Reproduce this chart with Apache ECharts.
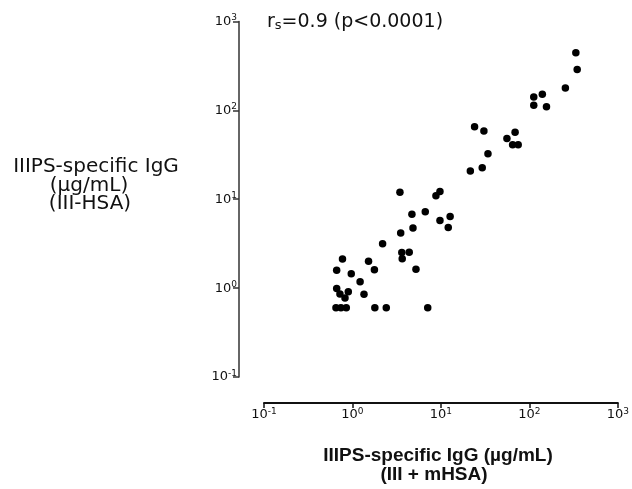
<!DOCTYPE html>
<html>
<head>
<meta charset="utf-8">
<script src="https://cdn.jsdelivr.net/npm/echarts@6/dist/echarts.min.js"></script>
<style>
html,body{margin:0;padding:0;background:#fff;}
#chart{width:632px;height:489px;}
</style>
</head>
<body>
<div id="chart"></div>
<script>
// x: IIIPS-specific IgG (III + mHSA), y: IIIPS-specific IgG (III-HSA), µg/mL
var xValues = [335, 347, 255, 112, 140, 112, 156, 24.0, 30.6, 68.9, 55.7, 64.6, 74.7, 34.0, 21.5, 29.3,
  3.44, 8.78, 9.75, 4.70, 6.65, 9.75, 12.7, 4.83, 12.1, 3.51, 2.19, 3.61, 4.38, 3.65,
  0.771, 1.52, 1.77, 5.22, 0.663, 0.969, 1.22, 0.663, 0.722, 0.823, 0.897, 1.35,
  0.651, 0.741, 0.851, 1.79, 2.41, 7.09];
var yValues = [445, 289, 178, 141, 152, 114, 110, 65.5, 58.6, 56.8, 48.3, 41.1, 41.1, 32.5, 20.8, 22.6,
  12.0, 10.96, 12.2, 6.79, 7.24, 5.78, 6.40, 4.75, 4.82, 4.17, 3.16, 2.52, 2.54, 2.14,
  2.13, 2.00, 1.61, 1.63, 1.59, 1.45, 1.18, 0.99, 0.86, 0.774, 0.91, 0.854,
  0.6, 0.6, 0.6, 0.6, 0.6, 0.6];
var tickValues = [0.1, 1, 10, 100, 1000];
var statText = ['r', 's', '=0.9 (p<0.0001)'];
var yTitleLines = ['IIIPS-specific IgG', '(µg/mL)', '(III-HSA)'];
var xTitleLines = ['IIIPS-specific IgG (µg/mL)', '(III + mHSA)'];

var points = xValues.map(function (x, i) { return [x, yValues[i]]; });

function powLabel(v) {
  var e = Math.round(Math.log10(v));
  return '{n|10}{s|' + e + '}';
}
var labelRich = {
  n: { fontFamily: 'DejaVu Sans', fontSize: 13, color: '#111', lineHeight: 14 },
  s: { fontFamily: 'DejaVu Sans', fontSize: 9, color: '#111', lineHeight: 9, padding: [0, 0, 7, 0] }
};

var chart = echarts.init(document.getElementById('chart'), null, { renderer: 'canvas' });
var option = {
  backgroundColor: '#fff',
  animation: false,
  grid: { left: 264, right: 14, top: 21.5, bottom: 112 },
  xAxis: {
    type: 'log', logBase: 10, min: 0.1, max: 1000,
    offset: 26,
    axisLine: { show: true, lineStyle: { color: '#111', width: 2 } },
    axisTick: { show: true, length: 5, lineStyle: { color: '#111', width: 1.5 } },
    minorTick: { show: false },
    splitLine: { show: false },
    axisLabel: { margin: 5, formatter: powLabel, rich: labelRich }
  },
  yAxis: {
    type: 'log', logBase: 10, min: 0.1, max: 1000,
    offset: 25,
    axisLine: { show: true, lineStyle: { color: '#333', width: 1.5 } },
    axisTick: { show: true, length: 6, lineStyle: { color: '#333', width: 1.5 } },
    splitLine: { show: false },
    axisLabel: { margin: 2, formatter: powLabel, rich: labelRich }
  },
  series: [{
    type: 'scatter',
    data: points,
    symbol: 'circle',
    symbolSize: 7.5,
    itemStyle: { color: '#000', opacity: 1 }
  }],
  graphic: [
    {
      type: 'text', x: 267, y: 22,
      style: {
        text: '{r|' + statText[0] + '}{s|' + statText[1] + '}{r|' + statText[2] + '}',
        textVerticalAlign: 'middle',
        rich: {
          r: { fontFamily: 'DejaVu Sans', fontSize: 19, fill: '#111' },
          s: { fontFamily: 'DejaVu Sans', fontSize: 13, fill: '#111', padding: [7, 0, 0, 0] }
        }
      }
    },
    { type: 'text', x: 96, y: 167, style: { text: yTitleLines[0], font: '20px "DejaVu Sans"', fill: '#111', textAlign: 'center', textVerticalAlign: 'middle' } },
    { type: 'text', x: 89, y: 186, style: { text: yTitleLines[1], font: '20px "DejaVu Sans"', fill: '#111', textAlign: 'center', textVerticalAlign: 'middle' } },
    { type: 'text', x: 90, y: 204, style: { text: yTitleLines[2], font: '20px "DejaVu Sans"', fill: '#111', textAlign: 'center', textVerticalAlign: 'middle' } },
    { type: 'text', x: 438, y: 456, style: { text: xTitleLines[0], font: 'bold 19px "Liberation Sans"', fill: '#111', textAlign: 'center', textVerticalAlign: 'middle' } },
    { type: 'text', x: 434, y: 475, style: { text: xTitleLines[1], font: 'bold 19px "Liberation Sans"', fill: '#111', textAlign: 'center', textVerticalAlign: 'middle' } }
  ]
};
chart.setOption(option);
</script>
</body>
</html>
